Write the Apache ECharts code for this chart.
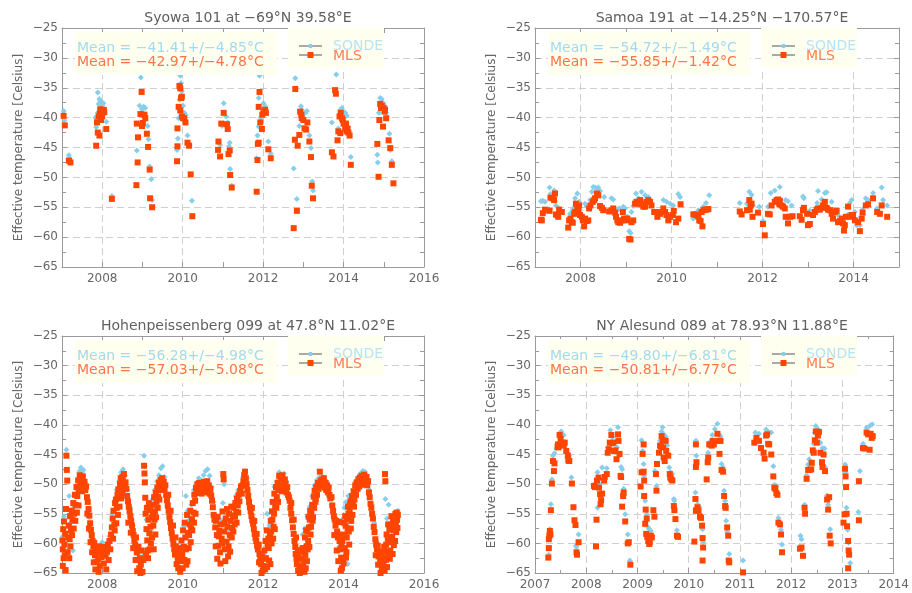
<!DOCTYPE html>
<html><head><meta charset="utf-8">
<script src="https://cdn.jsdelivr.net/npm/echarts@6/dist/echarts.min.js"></script>
<style>html,body{margin:0;padding:0;background:#fff}#c{width:912px;height:593px}</style>
</head><body><div id="c"></div>
<script>
// ---------------- text ----------------
const titles = [
  'Syowa 101 at \u221269\u00b0N 39.58\u00b0E',
  'Samoa 191 at \u221214.25\u00b0N \u2212170.57\u00b0E',
  'Hohenpeissenberg 099 at 47.8\u00b0N 11.02\u00b0E',
  'NY Alesund 089 at 78.93\u00b0N 11.88\u00b0E'
];
const meanSonde = ['Mean = \u221241.41+/\u22124.85\u00b0C', 'Mean = \u221254.72+/\u22121.49\u00b0C', 'Mean = \u221256.28+/\u22124.98\u00b0C', 'Mean = \u221249.80+/\u22126.81\u00b0C'];
const meanMLS   = ['Mean = \u221242.97+/\u22124.78\u00b0C', 'Mean = \u221255.85+/\u22121.42\u00b0C', 'Mean = \u221257.03+/\u22125.08\u00b0C', 'Mean = \u221250.81+/\u22126.77\u00b0C'];
const legendNames = ['SONDE', 'MLS'];
const yName = 'Effective temperature [Celsius]';
const yMin = -65, yMax = -25, yStep = 5;
const xMins = [2007, 2007, 2007, 2007];
const xMaxs = [2016, 2015, 2016, 2014];

// ---------------- data: [year, temperature] ----------------
const syowaSonde = [
[2007.04,-38.9],[2007.06,-40.5],[2007.17,-46.3],[2007.19,-46.8],
[2007.83,-40.0],[2007.85,-41.6],[2007.89,-35.8],[2007.91,-37.7],[2007.93,-36.9],[2007.95,-37.2],[2007.98,-37.7],[2008.00,-38.0],[2008.03,-37.6],[2007.89,-39.2],[2008.10,-40.7],[2008.24,-53.1],
[2008.86,-45.5],[2008.93,-38.0],[2008.96,-33.3],[2008.99,-38.6],[2009.03,-38.2],[2009.07,-38.4],[2009.01,-39.2],[2009.13,-41.4],[2009.15,-43.6],[2009.18,-48.2],[2009.22,-50.3],[2009.24,-53.8],
[2009.86,-45.4],[2009.88,-43.5],[2009.90,-40.1],[2009.92,-37.0],[2009.94,-33.0],[2009.96,-34.2],[2009.98,-35.6],[2010.01,-38.0],[2010.04,-39.2],[2010.07,-39.5],[2010.12,-43.0],[2010.16,-44.7],[2010.23,-53.9],
[2010.89,-44.2],[2010.93,-44.6],[2010.98,-41.4],[2011.02,-37.6],[2011.08,-39.8],[2011.12,-40.8],[2011.15,-44.8],[2011.17,-44.2],[2011.18,-48.6],[2011.22,-51.4],
[2011.84,-46.8],[2011.86,-43.0],[2011.89,-41.5],[2011.89,-36.7],[2011.91,-33.0],[2011.94,-40.0],[2011.98,-38.6],[2012.01,-37.6],[2012.05,-38.1],[2012.13,-44.0],[2012.19,-46.0],
[2012.76,-48.5],[2012.80,-33.4],[2012.84,-53.6],[2012.90,-41.4],[2012.94,-38.1],[2012.96,-38.7],[2013.00,-39.4],[2013.05,-39.2],[2013.09,-38.9],[2013.15,-43.0],[2013.19,-45.1],[2013.22,-50.7],[2013.24,-52.2],
[2013.71,-40.8],[2013.82,-32.8],[2013.87,-41.8],[2013.92,-38.7],[2013.96,-38.4],[2014.00,-39.0],[2014.04,-39.2],[2014.08,-39.7],[2014.12,-41.5],[2014.18,-46.6],
[2014.84,-46.2],[2014.85,-47.5],[2014.88,-39.2],[2014.91,-36.7],[2014.95,-36.9],[2014.99,-37.6],[2015.03,-38.1],[2015.06,-39.2],[2015.14,-42.7],[2015.16,-45.4],[2015.20,-47.3]
];
const syowaMLS = [
[2007.04,-39.7],[2007.07,-41.3],[2007.17,-47.2],[2007.21,-47.5],
[2007.85,-44.7],[2007.87,-40.8],[2007.89,-42.5],[2007.91,-39.8],[2007.93,-43.0],[2007.94,-39.4],[2007.95,-38.6],[2007.97,-40.4],[2007.98,-39.1],[2008.00,-39.8],[2008.02,-39.0],[2008.04,-38.7],[2008.05,-39.1],[2008.10,-41.9],[2008.24,-53.6],
[2008.85,-51.3],[2008.86,-41.0],[2008.88,-47.5],[2008.89,-43.3],[2008.95,-39.4],[2008.98,-35.7],[2008.99,-41.4],[2009.01,-40.9],[2009.05,-39.5],[2009.07,-40.1],[2009.11,-42.7],[2009.14,-44.9],[2009.18,-48.7],[2009.19,-53.5],[2009.24,-55.0],
[2009.86,-47.3],[2009.87,-44.8],[2009.87,-41.8],[2009.90,-38.2],[2009.92,-34.7],[2009.94,-35.1],[2009.96,-36.7],[2009.98,-36.5],[2009.94,-38.8],[2009.98,-39.8],[2010.01,-40.1],[2010.04,-40.1],[2010.07,-40.8],[2010.12,-44.2],[2010.16,-44.7],[2010.20,-49.5],[2010.24,-56.5],
[2010.88,-45.4],[2010.89,-44.0],[2010.93,-46.5],[2010.96,-41.0],[2011.02,-39.2],[2011.10,-41.1],[2011.12,-41.9],[2011.14,-46.1],[2011.17,-45.5],[2011.18,-49.6],[2011.22,-51.7],
[2011.84,-52.4],[2011.86,-47.1],[2011.87,-44.4],[2011.89,-44.2],[2011.89,-38.2],[2011.91,-35.7],[2011.93,-40.8],[2011.97,-41.9],[2011.98,-39.5],[2012.01,-39.1],[2012.05,-38.7],[2012.07,-39.2],[2012.13,-45.3],[2012.19,-46.8],
[2012.76,-58.5],[2012.79,-43.7],[2012.80,-35.2],[2012.84,-55.6],[2012.86,-44.7],[2012.90,-42.9],[2012.92,-39.0],[2012.95,-39.5],[2012.96,-40.1],[2013.00,-40.4],[2013.03,-41.8],[2013.07,-42.0],[2013.10,-40.8],[2013.15,-44.0],[2013.19,-46.6],[2013.21,-51.4],[2013.24,-53.5],
[2013.71,-45.8],[2013.75,-46.5],[2013.79,-35.4],[2013.81,-36.0],[2013.85,-43.8],[2013.87,-42.3],[2013.92,-42.6],[2013.90,-39.8],[2013.93,-39.2],[2013.96,-40.1],[2013.98,-40.4],[2014.00,-41.0],[2014.04,-41.8],[2014.06,-41.0],[2014.08,-42.3],[2014.10,-41.9],[2014.12,-42.5],[2014.15,-43.0],[2014.18,-47.9],
[2014.84,-44.4],[2014.87,-49.9],[2014.89,-40.4],[2014.91,-37.7],[2014.93,-38.4],[2014.95,-38.0],[2014.98,-41.5],[2014.99,-38.4],[2015.02,-39.0],[2015.03,-38.7],[2015.06,-40.1],[2015.12,-43.8],[2015.16,-45.1],[2015.20,-47.9],[2015.24,-51.0]
];

const samoaSonde = [
[2007.13,-54.0],[2007.17,-53.9],[2007.22,-54.1],[2007.32,-51.7],[2007.34,-52.8],[2007.42,-52.2],[2007.46,-54.7],[2007.53,-55.2],[2007.59,-55.8],
[2007.77,-56.1],[2007.83,-55.5],[2007.84,-55.2],[2007.88,-53.5],[2007.93,-52.7],[2007.95,-54.4],[2007.97,-54.1],[2007.99,-55.5],
[2008.10,-54.4],[2008.14,-54.9],[2008.21,-53.8],[2008.25,-52.4],[2008.28,-51.6],[2008.32,-51.7],[2008.36,-51.9],[2008.39,-51.7],[2008.43,-52.3],[2008.52,-53.3],
[2008.68,-53.5],[2008.72,-53.7],[2008.81,-55.5],[2008.85,-55.2],[2008.94,-54.9],[2008.98,-55.2],[2009.03,-56.6],[2009.07,-59.0],[2009.10,-59.3],[2009.12,-55.8],[2009.16,-54.8],
[2009.22,-52.7],[2009.27,-53.5],[2009.34,-52.4],[2009.42,-53.0],[2009.49,-53.3],[2009.56,-54.7],[2009.82,-53.8],[2009.89,-54.1],[2009.97,-54.4],[2010.04,-54.7],[2010.15,-52.8],[2010.19,-53.3],
[2010.48,-56.9],[2010.59,-55.5],[2010.70,-54.9],[2010.76,-54.3],[2010.83,-53.0],
[2011.50,-54.3],[2011.66,-54.4],[2011.71,-52.4],[2011.76,-52.9],[2011.79,-54.7],[2011.93,-54.9],[2012.01,-57.3],[2012.12,-54.9],[2012.18,-52.6],[2012.27,-52.2],[2012.38,-51.6],
[2012.51,-53.8],[2012.56,-54.0],[2012.64,-54.7],[2012.89,-53.2],[2012.91,-53.5],[2013.00,-55.8],[2013.04,-55.6],[2013.20,-54.3],[2013.22,-52.3],[2013.30,-53.7],[2013.37,-52.6],[2013.41,-52.5],
[2013.52,-54.1],[2013.59,-55.4],[2013.66,-56.3],[2013.88,-56.2],[2013.92,-54.3],[2013.96,-53.8],[2014.03,-55.8],[2014.07,-58.0],[2014.14,-58.0],[2014.20,-55.4],[2014.27,-53.5],[2014.32,-53.8],
[2014.43,-52.6],[2014.52,-55.2],[2014.62,-51.7],[2014.65,-53.8],[2014.74,-54.7]
];
const samoaMLS = [
[2007.13,-57.1],[2007.15,-57.2],[2007.17,-56.0],[2007.22,-55.4],[2007.26,-55.5],[2007.32,-55.6],[2007.34,-53.4],[2007.39,-53.5],[2007.44,-52.7],[2007.42,-53.8],[2007.46,-56.2],[2007.49,-56.3],[2007.51,-56.6],[2007.53,-55.4],[2007.56,-55.8],[2007.59,-55.8],
[2007.73,-58.4],[2007.75,-57.2],[2007.78,-56.9],[2007.81,-57.5],[2007.83,-57.6],[2007.86,-56.1],[2007.88,-55.8],[2007.90,-54.4],[2007.93,-54.9],[2007.95,-55.4],[2007.97,-54.7],[2007.99,-56.3],
[2008.03,-56.6],[2008.05,-57.2],[2008.08,-58.2],[2008.10,-56.9],[2008.14,-57.3],[2008.17,-57.2],[2008.19,-55.2],[2008.22,-54.7],[2008.27,-54.1],[2008.30,-53.8],[2008.32,-53.5],[2008.36,-52.7],[2008.39,-53.0],[2008.43,-54.8],[2008.47,-55.1],[2008.50,-55.5],
[2008.63,-55.7],[2008.68,-55.5],[2008.72,-55.2],[2008.76,-55.9],[2008.78,-56.6],[2008.81,-57.2],[2008.83,-57.5],[2008.87,-57.6],[2008.90,-57.2],[2008.93,-55.8],[2008.96,-56.9],[2009.00,-57.2],[2009.03,-56.9],[2009.07,-60.3],[2009.10,-60.4],[2009.12,-57.5],[2009.16,-57.2],
[2009.20,-54.4],[2009.23,-54.1],[2009.27,-54.4],[2009.31,-53.8],[2009.34,-54.5],[2009.38,-54.9],[2009.42,-54.9],[2009.45,-54.1],[2009.49,-53.8],[2009.53,-54.1],[2009.56,-54.7],[2009.62,-55.8],[2009.66,-55.8],[2009.69,-56.6],[2009.71,-55.8],[2009.75,-56.1],
[2009.82,-55.2],[2009.86,-55.8],[2009.89,-56.3],[2009.93,-57.2],[2009.97,-56.6],[2010.03,-56.3],[2010.05,-55.6],[2010.10,-57.5],[2010.15,-56.9],[2010.20,-54.5],
[2010.48,-56.2],[2010.52,-56.2],[2010.55,-56.3],[2010.59,-56.6],[2010.61,-57.2],[2010.64,-57.3],[2010.68,-58.2],[2010.66,-55.8],[2010.70,-55.5],[2010.74,-55.4],[2010.77,-55.4],[2010.81,-55.3],
[2011.50,-55.7],[2011.54,-56.2],[2011.66,-55.5],[2011.71,-53.8],[2011.72,-55.4],[2011.74,-54.7],[2011.76,-54.4],[2011.78,-56.6],[2011.90,-55.9],[2012.01,-57.8],[2012.05,-59.7],[2012.12,-56.1],[2012.16,-56.2],
[2012.20,-54.7],[2012.27,-54.1],[2012.31,-53.8],[2012.34,-53.7],[2012.38,-53.9],[2012.37,-54.5],[2012.42,-54.7],[2012.45,-54.9],[2012.49,-55.2],[2012.51,-56.6],[2012.56,-57.7],[2012.60,-56.6],[2012.66,-56.5],
[2012.82,-56.5],[2012.86,-57.1],[2012.89,-55.5],[2012.91,-55.1],[2012.98,-56.1],[2013.00,-58.0],[2013.04,-57.8],[2013.11,-56.3],[2013.15,-55.8],[2013.19,-55.4],[2013.22,-55.2],[2013.26,-55.4],[2013.30,-55.1],
[2013.33,-54.7],[2013.37,-54.1],[2013.41,-55.1],[2013.44,-55.4],[2013.49,-55.5],[2013.52,-56.1],[2013.55,-56.9],[2013.59,-55.8],[2013.63,-55.6],[2013.66,-57.5],[2013.70,-57.3],[2013.74,-56.9],[2013.77,-57.7],
[2013.79,-58.9],[2013.81,-58.0],[2013.83,-56.6],[2013.88,-54.9],[2013.92,-56.6],[2013.96,-56.3],[2013.99,-56.3],[2014.03,-57.2],[2014.10,-57.5],[2014.14,-59.0],[2014.18,-56.9],[2014.20,-55.9],
[2014.27,-54.7],[2014.32,-54.5],[2014.43,-53.5],[2014.52,-55.8],[2014.58,-56.1],[2014.62,-54.7],[2014.74,-56.6]
];

const hohenSonde = [
[2007.02,-58.8],[2007.05,-55.5],[2007.11,-44.2],[2007.14,-61.3],[2007.18,-52.0],[2007.22,-56.5],[2007.27,-61.2],[2007.30,-54.0],[2007.35,-51.5],[2007.40,-49.0],[2007.44,-47.8],[2007.47,-47.2],[2007.50,-48.0],[2007.53,-47.6],[2007.58,-49.8],[2007.63,-52.5],[2007.68,-55.6],[2007.73,-58.0],[2007.78,-60.0],[2007.85,-61.2],[2007.92,-60.8],
[2008.00,-59.8],[2008.06,-60.5],[2008.12,-62.0],[2008.18,-58.8],[2008.25,-55.0],[2008.30,-53.0],[2008.36,-51.0],[2008.42,-49.5],[2008.47,-48.0],[2008.52,-47.5],[2008.57,-48.6],[2008.63,-51.0],[2008.70,-54.0],[2008.76,-57.0],[2008.84,-60.0],[2008.90,-62.0],[2008.96,-63.5],
[2009.00,-61.5],[2009.04,-45.2],[2009.06,-47.0],[2009.10,-56.0],[2009.15,-54.5],[2009.20,-58.0],[2009.25,-52.5],[2009.30,-51.0],[2009.36,-49.5],[2009.41,-48.5],[2009.46,-47.3],[2009.50,-47.0],[2009.55,-48.8],[2009.62,-52.0],[2009.68,-55.5],[2009.74,-58.5],[2009.80,-61.0],[2009.86,-62.5],[2009.92,-61.0],[2009.98,-60.0],
[2010.03,-57.0],[2010.08,-52.0],[2010.12,-54.5],[2010.17,-56.0],[2010.22,-53.5],[2010.28,-51.0],[2010.34,-49.8],[2010.40,-49.0],[2010.46,-49.5],[2010.52,-48.5],[2010.57,-47.8],[2010.62,-47.5],[2010.67,-48.6],[2010.72,-50.5],[2010.77,-53.0],[2010.82,-55.8],[2010.88,-57.5],[2010.94,-56.0],
[2011.00,-53.2],[2011.03,-50.0],[2011.08,-55.0],[2011.14,-58.0],[2011.20,-55.0],[2011.26,-53.5],[2011.32,-52.0],[2011.38,-51.0],[2011.44,-50.2],[2011.50,-48.8],[2011.55,-47.8],[2011.60,-49.0],[2011.66,-52.8],[2011.73,-55.8],[2011.80,-58.8],[2011.88,-61.5],[2011.95,-63.0],
[2012.03,-62.0],[2012.10,-55.0],[2012.16,-57.0],[2012.22,-53.0],[2012.28,-50.5],[2012.34,-49.5],[2012.40,-48.0],[2012.46,-48.5],[2012.52,-48.2],[2012.58,-49.5],[2012.65,-52.0],[2012.72,-55.5],[2012.80,-59.5],[2012.86,-62.0],[2012.92,-61.0],[2012.98,-58.5],
[2013.04,-57.5],[2013.10,-55.5],[2013.16,-53.8],[2013.22,-52.0],[2013.28,-50.2],[2013.34,-49.3],[2013.40,-48.8],[2013.46,-48.6],[2013.52,-49.0],[2013.58,-49.5],[2013.64,-51.5],[2013.70,-53.5],[2013.76,-56.0],[2013.84,-59.0],[2013.90,-60.5],[2013.96,-56.0],
[2014.02,-54.0],[2014.06,-53.0],[2014.10,-63.5],[2014.12,-52.0],[2014.18,-55.5],[2014.24,-51.0],[2014.30,-49.5],[2014.36,-48.8],[2014.42,-48.2],[2014.48,-47.8],[2014.53,-47.9],[2014.58,-48.5],[2014.64,-51.0],[2014.70,-53.5],[2014.76,-56.5],[2014.82,-59.5],[2014.88,-61.0],[2014.94,-63.0],
[2015.00,-61.2],[2015.04,-52.5],[2015.08,-55.8],[2015.12,-53.5],[2015.17,-57.0],[2015.22,-56.0],[2015.27,-55.5],[2015.32,-54.8],[2015.35,-54.5]
];
const hohenMLS = [
[2007.01,-59.5],[2007.02,-61.0],[2007.03,-57.6],[2007.04,-62.5],[2007.05,-56.3],[2007.06,-60.2],[2007.08,-58.4],[2007.09,-64.5],[2007.10,-54.2],[2007.11,-45.2],[2007.12,-47.6],[2007.13,-49.4],[2007.15,-59.0],[2007.17,-57.0],[2007.19,-59.3],[2007.20,-55.4],[2007.22,-57.8],[2007.24,-54.5],[2007.26,-56.0],[2007.28,-53.2],[2007.30,-55.0],
[2007.32,-51.8],[2007.34,-53.5],[2007.36,-50.5],[2007.38,-52.0],[2007.40,-49.4],[2007.42,-51.0],[2007.44,-48.5],[2007.46,-50.2],[2007.48,-49.0],[2007.50,-51.2],[2007.52,-48.7],[2007.54,-50.0],[2007.56,-49.6],[2007.58,-51.0],[2007.60,-50.4],[2007.62,-52.2],[2007.64,-53.0],[2007.66,-54.2],[2007.68,-55.3],[2007.70,-56.6],[2007.72,-57.7],[2007.74,-58.6],[2007.76,-59.6],[2007.78,-60.5],
[2007.80,-59.9],[2007.82,-62.0],[2007.84,-60.8],[2007.86,-63.1],[2007.88,-61.6],[2007.90,-62.7],[2007.92,-60.5],[2007.94,-63.8],[2007.96,-61.0],[2007.98,-62.3],[2008.00,-60.6],[2008.02,-61.8],[2008.04,-63.4],[2008.06,-60.9],[2008.08,-62.1],[2008.10,-64.4],[2008.12,-61.4],[2008.14,-60.2],[2008.16,-62.8],[2008.18,-59.6],[2008.20,-61.0],
[2008.22,-58.5],[2008.24,-57.3],[2008.26,-55.8],[2008.28,-54.5],[2008.30,-56.8],[2008.32,-53.2],[2008.34,-52.6],[2008.36,-54.0],[2008.38,-51.8],[2008.40,-50.9],[2008.42,-52.3],[2008.44,-50.0],[2008.46,-49.0],[2008.48,-50.6],[2008.50,-48.8],[2008.52,-49.5],[2008.54,-48.3],[2008.56,-50.4],[2008.58,-49.7],[2008.60,-50.8],
[2008.62,-52.0],[2008.64,-52.9],[2008.66,-53.8],[2008.68,-54.6],[2008.70,-55.4],[2008.72,-56.2],[2008.74,-57.0],[2008.76,-57.9],[2008.78,-58.6],[2008.80,-59.5],[2008.82,-60.3],[2008.84,-59.0],[2008.86,-61.5],[2008.88,-62.8],[2008.90,-60.6],[2008.92,-64.2],[2008.94,-62.5],[2008.96,-63.6],[2008.98,-61.2],[2009.00,-64.8],[2009.02,-62.8],
[2009.04,-46.9],[2009.05,-48.2],[2009.06,-49.7],[2009.07,-52.3],[2009.08,-55.0],[2009.10,-57.6],[2009.12,-59.5],[2009.13,-61.2],[2009.15,-56.0],[2009.17,-58.3],[2009.19,-54.4],[2009.21,-60.0],[2009.23,-55.6],[2009.25,-53.5],[2009.27,-57.0],[2009.29,-52.2],[2009.31,-54.6],[2009.33,-51.5],[2009.35,-53.0],[2009.37,-50.6],[2009.39,-52.1],
[2009.41,-49.8],[2009.43,-51.0],[2009.45,-49.3],[2009.47,-50.2],[2009.49,-49.0],[2009.51,-50.5],[2009.53,-49.6],[2009.55,-51.0],[2009.57,-50.2],[2009.59,-51.8],[2009.61,-52.7],[2009.63,-53.6],[2009.65,-54.5],[2009.67,-55.5],[2009.69,-56.4],[2009.71,-57.4],[2009.73,-58.3],[2009.75,-59.2],[2009.77,-60.1],[2009.79,-61.0],
[2009.81,-61.9],[2009.83,-60.5],[2009.85,-63.5],[2009.87,-61.5],[2009.89,-64.2],[2009.91,-62.3],[2009.93,-60.8],[2009.95,-63.0],[2009.97,-59.5],[2009.99,-61.8],[2010.01,-57.8],[2010.03,-60.6],[2010.05,-56.5],[2010.07,-59.0],[2010.09,-63.6],[2010.11,-55.2],[2010.13,-58.2],[2010.15,-60.8],[2010.17,-56.8],[2010.19,-54.5],
[2010.21,-57.5],[2010.23,-55.9],[2010.25,-53.2],[2010.27,-54.8],[2010.29,-51.8],[2010.31,-52.8],[2010.33,-50.6],[2010.35,-51.5],[2010.37,-50.0],[2010.39,-51.2],[2010.41,-49.8],[2010.43,-50.8],[2010.45,-50.2],[2010.47,-51.6],[2010.49,-50.3],[2010.51,-51.0],[2010.53,-49.6],[2010.55,-50.7],[2010.57,-50.0],[2010.59,-51.4],
[2010.61,-49.5],[2010.63,-50.9],[2010.65,-50.2],[2010.67,-51.6],[2010.69,-50.8],[2010.71,-51.9],[2010.73,-52.8],[2010.75,-53.9],[2010.77,-55.2],[2010.79,-56.0],[2010.81,-57.3],[2010.83,-56.2],[2010.85,-58.6],[2010.87,-55.5],[2010.89,-60.4],[2010.91,-57.9],[2010.93,-61.5],[2010.95,-56.8],[2010.97,-59.2],[2010.99,-54.6],
[2011.01,-48.3],[2011.02,-49.2],[2011.03,-58.0],[2011.05,-61.0],[2011.07,-55.8],[2011.09,-59.7],[2011.11,-57.2],[2011.13,-62.2],[2011.15,-55.0],[2011.17,-58.6],[2011.19,-56.2],[2011.21,-53.8],[2011.23,-57.4],[2011.25,-55.3],[2011.27,-54.0],[2011.29,-56.8],[2011.31,-53.2],[2011.33,-54.7],[2011.35,-52.5],[2011.37,-53.6],
[2011.39,-51.8],[2011.41,-52.9],[2011.43,-51.2],[2011.45,-50.4],[2011.47,-51.6],[2011.49,-50.2],[2011.51,-49.5],[2011.53,-48.5],[2011.55,-47.9],[2011.57,-49.0],[2011.59,-50.0],[2011.61,-51.0],[2011.63,-52.0],[2011.65,-53.0],[2011.67,-53.9],[2011.69,-54.6],[2011.71,-55.4],[2011.73,-56.1],[2011.75,-56.7],[2011.77,-57.6],
[2011.79,-58.4],[2011.81,-59.1],[2011.83,-59.6],[2011.85,-60.4],[2011.87,-61.0],[2011.89,-60.2],[2011.91,-61.8],[2011.93,-62.6],[2011.95,-63.5],[2011.97,-62.2],[2011.99,-64.6],[2012.01,-63.8],[2012.03,-61.2],[2012.05,-64.4],[2012.07,-62.5],[2012.09,-57.8],[2012.11,-60.3],[2012.13,-59.2],[2012.15,-62.9],
[2012.17,-58.5],[2012.19,-56.2],[2012.21,-60.0],[2012.22,-54.6],[2012.24,-53.0],[2012.26,-57.2],[2012.28,-51.6],[2012.30,-53.8],[2012.32,-50.5],[2012.34,-52.2],[2012.36,-49.8],[2012.38,-51.0],[2012.40,-48.6],[2012.42,-50.3],[2012.44,-49.0],[2012.46,-51.2],[2012.48,-48.5],[2012.50,-49.6],[2012.52,-50.5],[2012.54,-49.2],
[2012.56,-50.0],[2012.58,-51.4],[2012.60,-50.5],[2012.62,-51.8],[2012.64,-52.2],[2012.66,-52.8],[2012.68,-54.0],[2012.70,-55.0],[2012.72,-56.1],[2012.74,-57.3],[2012.76,-58.4],[2012.78,-59.6],[2012.80,-60.6],[2012.81,-61.8],[2012.83,-62.6],[2012.84,-63.5],[2012.87,-64.6],[2012.88,-62.2],[2012.90,-63.9],[2012.92,-61.2],[2012.94,-64.8],
[2012.96,-62.6],[2012.98,-60.8],[2013.00,-63.5],[2013.02,-61.5],[2013.04,-59.0],[2013.06,-64.2],[2013.08,-60.5],[2013.10,-58.0],[2013.12,-59.6],[2013.14,-57.3],[2013.16,-56.0],[2013.18,-58.5],[2013.20,-54.8],[2013.22,-53.5],[2013.24,-55.6],[2013.26,-52.1],[2013.28,-51.1],[2013.30,-53.0],[2013.32,-50.5],[2013.34,-51.8],
[2013.36,-49.8],[2013.38,-50.8],[2013.41,-47.9],[2013.43,-49.4],[2013.45,-50.2],[2013.47,-49.2],[2013.49,-50.0],[2013.51,-49.0],[2013.53,-50.6],[2013.55,-49.8],[2013.57,-51.0],[2013.59,-50.2],[2013.61,-51.4],[2013.63,-50.6],[2013.65,-51.8],[2013.67,-52.4],[2013.70,-52.2],[2013.72,-53.6],[2013.74,-54.5],[2013.76,-55.4],
[2013.78,-56.0],[2013.80,-57.0],[2013.82,-56.2],[2013.84,-58.0],[2013.86,-59.0],[2013.88,-58.5],[2013.90,-59.6],[2013.92,-61.0],[2013.94,-62.4],[2013.95,-60.2],[2013.96,-64.2],[2013.98,-58.8],[2013.99,-62.6],[2014.01,-56.5],[2014.03,-60.8],[2014.05,-57.0],[2014.07,-61.5],[2014.09,-55.9],[2014.11,-53.8],[2014.13,-58.0],
[2014.15,-54.6],[2014.17,-52.9],[2014.19,-56.2],[2014.21,-52.0],[2014.23,-53.5],[2014.25,-51.2],[2014.27,-52.6],[2014.29,-50.2],[2014.31,-51.8],[2014.33,-49.7],[2014.35,-50.8],[2014.37,-49.2],[2014.39,-50.4],[2014.41,-48.9],[2014.43,-49.8],[2014.45,-48.6],[2014.47,-50.1],[2014.49,-49.3],[2014.51,-48.4],[2014.53,-50.0],
[2014.55,-49.1],[2014.57,-48.8],[2014.59,-50.2],[2014.61,-49.5],[2014.63,-51.4],[2014.65,-52.2],[2014.67,-53.3],[2014.69,-54.0],[2014.71,-55.0],[2014.73,-55.8],[2014.75,-57.2],[2014.77,-58.1],[2014.79,-59.3],[2014.81,-60.2],[2014.83,-61.0],[2014.85,-60.4],[2014.87,-62.2],[2014.89,-61.5],[2014.91,-63.0],[2014.93,-62.0],
[2014.95,-64.3],[2014.97,-61.4],[2014.99,-63.6],[2015.01,-60.6],[2015.03,-48.3],[2015.04,-49.5],[2015.05,-62.8],[2015.07,-58.5],[2015.09,-61.4],[2015.11,-56.8],[2015.13,-59.8],[2015.15,-62.6],[2015.17,-57.6],[2015.19,-55.4],[2015.21,-58.9],[2015.23,-56.3],[2015.25,-60.3],[2015.27,-57.2],[2015.29,-55.0],[2015.31,-58.1],[2015.33,-56.0],[2015.35,-55.2],
// extra scattered points (thicker limbs and winter scatter)
[2007.02,-63.8],[2007.07,-62.0],[2007.14,-61.5],[2007.18,-62.5],[2007.21,-60.5],[2007.25,-58.6],[2007.29,-57.5],[2007.33,-56.2],[2007.37,-54.8],[2007.41,-53.6],
[2007.63,-55.0],[2007.67,-57.5],[2007.71,-59.8],[2007.75,-61.5],[2007.79,-63.2],[2007.83,-64.4],[2007.91,-64.8],
[2008.27,-59.2],[2008.31,-57.8],[2008.35,-56.6],[2008.39,-55.2],[2008.43,-53.8],[2008.47,-52.4],[2008.51,-51.5],
[2008.65,-56.5],[2008.71,-58.2],[2008.77,-60.8],[2008.83,-62.8],[2008.87,-64.7],[2008.95,-65.0],
[2009.09,-61.8],[2009.11,-54.0],[2009.14,-62.5],[2009.16,-53.2],[2009.18,-61.0],[2009.20,-57.2],[2009.24,-59.0],[2009.26,-55.0],[2009.28,-61.0],[2009.30,-56.0],[2009.32,-58.5],[2009.34,-55.6],[2009.38,-54.0],[2009.42,-52.6],
[2009.64,-51.8],[2009.70,-54.5],[2009.76,-57.0],[2009.82,-59.0],[2009.88,-62.8],[2009.94,-64.8],[2010.00,-64.2],[2010.04,-62.8],[2010.08,-61.0],[2010.12,-63.0],[2010.16,-58.6],[2010.20,-59.8],[2010.24,-57.8],[2010.28,-56.5],[2010.32,-55.0],
[2010.82,-60.5],[2010.86,-62.6],[2010.90,-58.8],[2010.94,-63.4],[2010.98,-60.0],[2011.04,-56.6],[2011.06,-63.0],[2011.10,-54.2],[2011.14,-60.5],[2011.18,-61.4],[2011.22,-59.0],[2011.26,-58.0],[2011.30,-55.5],[2011.34,-56.5],[2011.38,-54.8],
[2011.72,-54.0],[2011.78,-56.2],[2011.84,-58.4],[2011.90,-63.2],[2011.96,-65.0],[2012.02,-62.6],[2012.06,-59.6],[2012.10,-64.0],[2012.14,-60.8],[2012.18,-63.5],[2012.20,-58.0],[2012.23,-56.0],[2012.25,-59.2],[2012.27,-55.0],[2012.29,-57.6],[2012.33,-54.0],[2012.37,-53.0],
[2012.70,-53.2],[2012.76,-56.0],[2012.82,-59.0],[2012.86,-61.2],[2012.91,-65.0],[2012.97,-64.4],[2013.01,-61.0],[2013.03,-64.8],[2013.05,-62.0],[2013.07,-57.8],[2013.09,-63.0],[2013.11,-61.0],[2013.13,-55.5],[2013.15,-60.6],[2013.17,-54.5],[2013.19,-57.2],[2013.23,-56.2],[2013.27,-54.0],[2013.31,-52.5],
[2013.77,-58.6],[2013.83,-61.2],[2013.87,-63.0],[2013.89,-56.4],[2013.93,-64.6],[2013.97,-59.6],[2014.00,-63.4],[2014.02,-58.5],[2014.04,-55.4],[2014.06,-62.4],[2014.08,-59.0],[2014.10,-57.5],[2014.12,-55.0],[2014.14,-60.2],[2014.16,-53.5],[2014.18,-57.5],[2014.22,-55.2],[2014.26,-53.8],
[2014.80,-62.0],[2014.86,-63.6],[2014.92,-65.0],[2014.98,-62.4],[2015.02,-64.6],[2015.06,-60.2],[2015.08,-64.0],[2015.10,-59.2],[2015.12,-62.2],[2015.14,-57.6],[2015.16,-61.2],[2015.18,-59.6],[2015.20,-56.8],[2015.22,-61.8],[2015.24,-57.8],[2015.26,-55.8],[2015.28,-59.6],[2015.30,-56.8],[2015.32,-54.8],[2015.34,-57.4]
];

const alesundSonde = [
[2007.27,-61.9],[2007.29,-57.6],[2007.31,-53.4],[2007.33,-49.2],[2007.35,-45.2],[2007.38,-44.8],[2007.42,-44.0],[2007.50,-41.6],[2007.51,-41.1],[2007.56,-41.7],[2007.64,-44.8],[2007.67,-45.2],[2007.71,-48.9],[2007.76,-53.9],[2007.80,-60.4],[2007.81,-60.6],[2007.85,-58.5],
[2008.17,-49.9],[2008.22,-48.0],[2008.25,-49.9],[2008.22,-54.0],[2008.31,-47.2],[2008.40,-47.3],[2008.42,-43.8],[2008.47,-40.9],[2008.51,-42.1],[2008.57,-42.8],[2008.62,-40.4],[2008.60,-43.8],[2008.65,-45.2],[2008.68,-47.1],[2008.70,-47.5],[2008.73,-50.8],[2008.74,-51.9],[2008.76,-55.1],[2008.81,-58.5],[2008.85,-62.9],
[2009.08,-42.6],[2009.10,-44.4],[2009.12,-46.6],[2009.13,-48.6],[2009.15,-52.8],[2009.18,-55.1],[2009.21,-57.3],[2009.23,-57.6],[2009.26,-57.9],[2009.34,-47.8],[2009.37,-50.3],[2009.44,-42.7],[2009.47,-41.1],[2009.49,-40.4],[2009.51,-41.6],[2009.55,-42.0],[2009.58,-43.5],[2009.62,-47.2],[2009.64,-48.0],[2009.68,-48.3],[2009.71,-52.5],[2009.72,-52.8],[2009.77,-57.8],
[2010.13,-51.4],[2010.14,-42.7],[2010.15,-45.2],[2010.17,-53.4],[2010.21,-53.9],[2010.24,-55.3],[2010.27,-57.6],[2010.28,-59.8],[2010.37,-45.5],[2010.38,-44.7],[2010.43,-42.7],[2010.46,-41.7],[2010.51,-40.7],[2010.56,-39.8],[2010.59,-41.6],[2010.62,-41.9],[2010.64,-46.6],[2010.67,-47.2],[2010.69,-51.1],[2010.71,-52.8],[2010.73,-56.2],[2010.75,-58.1],[2010.79,-61.8],
[2011.06,-62.9],
[2011.30,-41.3],[2011.37,-41.5],[2011.51,-40.8],[2011.56,-41.3],[2011.61,-41.3],[2011.65,-47.0],[2011.67,-50.1],[2011.71,-50.3],[2011.75,-55.7],[2011.80,-57.7],[2011.82,-60.2],
[2012.18,-58.7],[2012.20,-59.3],[2012.26,-53.5],[2012.30,-48.5],[2012.33,-46.7],[2012.35,-45.8],[2012.44,-43.2],[2012.46,-41.3],[2012.48,-40.2],[2012.53,-40.8],[2012.57,-43.0],[2012.61,-43.9],[2012.65,-44.0],[2012.66,-47.1],[2012.70,-51.9],[2012.72,-53.5],[2012.76,-57.6],
[2013.05,-46.7],[2013.06,-48.0],[2013.08,-54.0],[2013.10,-57.7],[2013.12,-59.9],[2013.15,-63.3],[2013.31,-54.7],[2013.34,-47.8],[2013.40,-43.2],[2013.47,-40.5],[2013.53,-40.2],[2013.58,-39.9]
];
const alesundMLS = [
[2007.26,-62.4],[2007.27,-60.8],[2007.27,-59.3],[2007.28,-58.7],[2007.30,-58.5],[2007.29,-57.9],[2007.31,-54.4],[2007.33,-49.9],[2007.37,-47.8],[2007.38,-46.5],[2007.35,-46.1],[2007.44,-43.7],[2007.45,-43.3],[2007.46,-43.8],[2007.48,-41.7],[2007.50,-42.4],[2007.51,-43.3],[2007.54,-43.0],[2007.56,-43.5],[2007.58,-43.0],
[2007.61,-44.4],[2007.64,-45.2],[2007.65,-46.0],[2007.67,-46.1],[2007.72,-49.9],[2007.75,-53.9],[2007.77,-56.1],[2007.79,-56.9],[2007.81,-61.5],[2007.82,-61.9],[2007.85,-59.8],
[2008.19,-60.5],[2008.20,-56.0],[2008.15,-50.3],[2008.17,-50.5],[2008.21,-49.4],[2008.24,-48.9],[2008.25,-50.6],[2008.27,-51.7],[2008.28,-53.4],[2008.29,-52.7],[2008.31,-51.6],[2008.35,-49.4],[2008.36,-48.8],[2008.40,-48.3],[2008.42,-44.7],[2008.44,-44.1],[2008.46,-43.0],[2008.49,-41.7],
[2008.51,-43.1],[2008.53,-43.0],[2008.54,-44.4],[2008.57,-44.3],[2008.59,-45.8],[2008.62,-41.6],[2008.63,-42.7],[2008.65,-44.9],[2008.67,-48.6],[2008.68,-48.8],[2008.70,-53.8],[2008.72,-52.0],[2008.73,-51.4],[2008.76,-56.3],[2008.81,-60.0],[2008.83,-59.8],[2008.86,-63.6],
[2009.06,-50.4],[2009.08,-48.0],[2009.10,-44.9],[2009.12,-43.3],[2009.12,-47.9],[2009.13,-49.4],[2009.13,-52.0],[2009.15,-56.7],[2009.16,-54.3],[2009.18,-55.8],[2009.17,-58.4],[2009.19,-58.9],[2009.21,-59.6],[2009.23,-60.1],[2009.24,-59.8],[2009.26,-58.7],[2009.28,-59.0],
[2009.31,-54.4],[2009.33,-55.5],[2009.36,-48.3],[2009.37,-51.1],[2009.38,-46.6],[2009.42,-44.7],[2009.44,-43.5],[2009.46,-43.7],[2009.47,-41.9],[2009.49,-42.6],[2009.50,-43.8],[2009.51,-45.5],[2009.53,-46.1],[2009.55,-42.7],[2009.56,-44.4],[2009.60,-45.2],
[2009.63,-48.3],[2009.64,-48.9],[2009.66,-49.2],[2009.68,-49.4],[2009.71,-53.7],[2009.72,-54.4],[2009.74,-55.9],[2009.77,-58.7],[2009.79,-58.9],
[2010.11,-59.7],[2010.13,-52.5],[2010.14,-54.5],[2010.15,-54.4],[2010.17,-53.9],[2010.19,-54.5],[2010.22,-55.5],[2010.24,-55.7],[2010.26,-57.0],[2010.27,-59.1],[2010.28,-60.7],[2010.27,-62.9],[2010.14,-47.1],[2010.15,-46.3],[2010.14,-43.3],
[2010.35,-49.2],[2010.37,-46.3],[2010.38,-45.5],[2010.40,-43.3],[2010.42,-43.3],[2010.45,-43.5],[2010.47,-42.7],[2010.49,-43.3],[2010.56,-41.5],[2010.58,-42.7],[2010.60,-44.9],[2010.62,-42.7],[2010.64,-47.6],[2010.67,-47.9],
[2010.69,-52.0],[2010.71,-53.7],[2010.72,-54.0],[2010.75,-57.3],[2010.77,-58.7],[2010.78,-62.9],[2010.79,-63.2],
[2011.06,-64.9],
[2011.28,-43.0],[2011.32,-42.2],[2011.37,-42.7],[2011.41,-43.9],[2011.46,-44.7],[2011.48,-45.7],[2011.51,-41.8],[2011.53,-41.6],[2011.55,-43.2],[2011.57,-43.3],[2011.61,-45.0],[2011.65,-48.7],[2011.67,-50.6],[2011.69,-50.8],[2011.71,-51.5],[2011.73,-51.8],[2011.75,-56.5],[2011.78,-56.8],[2011.80,-58.5],[2011.82,-61.5],
[2012.17,-60.9],[2012.20,-60.7],[2012.23,-62.1],[2012.26,-54.0],[2012.27,-55.0],[2012.30,-49.1],[2012.33,-47.6],[2012.36,-47.6],[2012.39,-47.5],[2012.40,-46.4],[2012.42,-44.3],[2012.44,-44.7],[2012.46,-42.6],[2012.48,-41.1],[2012.50,-43.0],[2012.52,-41.8],[2012.54,-41.2],
[2012.57,-44.7],[2012.60,-46.3],[2012.61,-47.1],[2012.63,-45.0],[2012.66,-47.8],[2012.70,-52.6],[2012.72,-54.3],[2012.74,-52.2],[2012.75,-58.7],[2012.77,-60.0],
[2013.02,-56.5],[2013.04,-55.1],[2013.05,-47.4],[2013.06,-48.7],[2013.07,-50.5],[2013.08,-55.0],[2013.09,-57.1],[2013.11,-59.6],[2013.12,-61.2],[2013.13,-61.9],[2013.11,-64.2],
[2013.32,-49.5],[2013.32,-56.1],[2013.40,-43.9],[2013.43,-44.0],[2013.47,-41.3],[2013.50,-41.6],[2013.53,-44.2],[2013.55,-41.5],[2013.57,-42.2],[2013.59,-41.9]
];

const sondeSets = [syowaSonde, samoaSonde, hohenSonde, alesundSonde];
const mlsSets = [syowaMLS, samoaMLS, hohenMLS, alesundMLS];

// ---------------- layout / style ----------------
const grids = [
  {left: 62, top: 28, width: 362, height: 239},
  {left: 535, top: 28, width: 364, height: 239},
  {left: 62, top: 336, width: 362, height: 237},
  {left: 535, top: 336, width: 364, height: 237}
];
const FONT = 'DejaVu Sans';
const AXIS_C = '#9a9a9a', LABEL_C = '#666', GRID_C = '#cfcfcf';
const SONDE_C = '#87ceeb', MLS_C = '#ff4500';
const SONDE_TXT = '#a3d9ef', MLS_TXT = '#ff7448';
const minus = s => String(s).replace('-', '\u2212');

const chart = echarts.init(document.getElementById('c'), null, {renderer: 'canvas'});

const xAxes = [], yAxes = [], series = [], title = [], graphic = [];
grids.forEach((g, i) => {
  const everyYear = (i === 3);
  const xBase = {
    type: 'value', gridIndex: i, min: xMins[i], max: xMaxs[i], interval: 1,
    axisLine: {show: true, lineStyle: {color: AXIS_C}},
    axisTick: {show: true, inside: true, length: 5, lineStyle: {color: AXIS_C}},
    minorTick: {show: everyYear, splitNumber: 2, length: 3, lineStyle: {color: AXIS_C}}
  };
  xAxes.push(Object.assign({}, xBase, {
    position: 'bottom',
    axisLabel: {show: true, margin: 6, color: LABEL_C, fontFamily: FONT, fontSize: 12,
      formatter: v => (everyYear || v % 2 === 0) ? String(v) : ''},
    splitLine: {show: true, lineStyle: {type: [7, 4], width: 1,
      color: everyYear ? GRID_C : ['rgba(0,0,0,0)', GRID_C]}}
  }));
  const yBase = {
    type: 'value', gridIndex: i, min: yMin, max: yMax, interval: yStep,
    axisLine: {show: true, lineStyle: {color: AXIS_C}},
    axisTick: {show: true, inside: true, length: 5, lineStyle: {color: AXIS_C}},
    minorTick: {show: true, splitNumber: 2, length: 4, lineStyle: {color: AXIS_C}}
  };
  yAxes.push(Object.assign({}, yBase, {
    position: 'left',
    name: yName, nameLocation: 'middle', nameGap: 37, nameRotate: 90,
    nameTextStyle: {color: LABEL_C, fontFamily: FONT, fontSize: 12},
    axisLabel: {show: true, margin: 4, color: LABEL_C, fontFamily: FONT, fontSize: 12, formatter: minus},
    splitLine: {show: true, lineStyle: {type: [7, 4], width: 1, color: GRID_C}}
  }));
  title.push({text: titles[i], left: g.left + g.width / 2, top: g.top - 22, textAlign: 'center',
    textStyle: {color: '#5f5f5f', fontFamily: FONT, fontSize: 14, fontWeight: 'normal'}});
});
// mirrored top / right axes (ticks only)
grids.forEach((g, i) => {
  const everyYear = (i === 3);
  xAxes.push({type: 'value', gridIndex: i, min: xMins[i], max: xMaxs[i], interval: 1, position: 'top',
    axisLine: {show: true, lineStyle: {color: AXIS_C}},
    axisTick: {show: true, inside: true, length: 5, lineStyle: {color: AXIS_C}},
    minorTick: {show: everyYear, splitNumber: 2, length: 3, lineStyle: {color: AXIS_C}},
    axisLabel: {show: false}, splitLine: {show: false}});
  yAxes.push({type: 'value', gridIndex: i, min: yMin, max: yMax, interval: yStep, position: 'right',
    axisLine: {show: true, lineStyle: {color: AXIS_C}},
    axisTick: {show: true, inside: true, length: 5, lineStyle: {color: AXIS_C}},
    minorTick: {show: true, splitNumber: 2, length: 4, lineStyle: {color: AXIS_C}},
    axisLabel: {show: false}, splitLine: {show: false}});
});
grids.forEach((g, i) => {
  series.push({type: 'scatter', name: legendNames[0], xAxisIndex: i, yAxisIndex: i, data: sondeSets[i],
    symbol: 'diamond', symbolSize: 6, itemStyle: {color: SONDE_C, opacity: 1}, silent: true, animation: false, z: 2});
  series.push({type: 'scatter', name: legendNames[1], xAxisIndex: i, yAxisIndex: i, data: mlsSets[i],
    symbol: 'rect', symbolSize: 6, itemStyle: {color: MLS_C, opacity: 1}, silent: true, animation: false, z: 3});
  // annotation box with means
  const bx = g.left + 13, by = g.top + 4;
  graphic.push({type: 'rect', left: bx, top: by, z: 10, shape: {width: 202, height: 43}, style: {fill: '#fffff0'}});
  graphic.push({type: 'text', x: bx + 2, y: by + 16, z: 11, style: {text: meanSonde[i], fill: SONDE_TXT, font: '14px "DejaVu Sans"', textVerticalAlign: 'middle'}});
  graphic.push({type: 'text', x: bx + 2, y: by + 30, z: 11, style: {text: meanMLS[i], fill: MLS_TXT, font: '14px "DejaVu Sans"', textVerticalAlign: 'middle'}});
  // legend box
  const lx = g.left + 226, ly = g.top;
  graphic.push({type: 'rect', left: lx, top: ly, z: 10, shape: {width: 96, height: 40}, style: {fill: '#fffff0'}});
  graphic.push({type: 'line', z: 11, shape: {x1: lx + 11, y1: ly + 18, x2: lx + 34, y2: ly + 18}, style: {stroke: '#8c8c8c', lineWidth: 1.5}});
  graphic.push({type: 'line', z: 11, shape: {x1: lx + 11, y1: ly + 27, x2: lx + 34, y2: ly + 27}, style: {stroke: '#8c8c8c', lineWidth: 1.5}});
  graphic.push({type: 'circle', z: 12, shape: {cx: lx + 22.5, cy: ly + 18, r: 2.2}, style: {fill: SONDE_C}});
  graphic.push({type: 'rect', z: 12, shape: {x: lx + 19.5, y: ly + 24, width: 6, height: 6}, style: {fill: MLS_C}});
  graphic.push({type: 'text', x: lx + 45, y: ly + 18, z: 11, style: {text: legendNames[0], fill: '#b9e3f3', font: '14px "DejaVu Sans"', textVerticalAlign: 'middle'}});
  graphic.push({type: 'text', x: lx + 45, y: ly + 28, z: 11, style: {text: legendNames[1], fill: '#ff7f50', font: '14px "DejaVu Sans"', textVerticalAlign: 'middle'}});
});

chart.setOption({
  animation: false,
  backgroundColor: '#ffffff',
  title: title,
  grid: grids.map(g => Object.assign({containLabel: false}, g)),
  xAxis: xAxes,
  yAxis: yAxes,
  series: series,
  graphic: graphic
});
</script>
</body></html>
